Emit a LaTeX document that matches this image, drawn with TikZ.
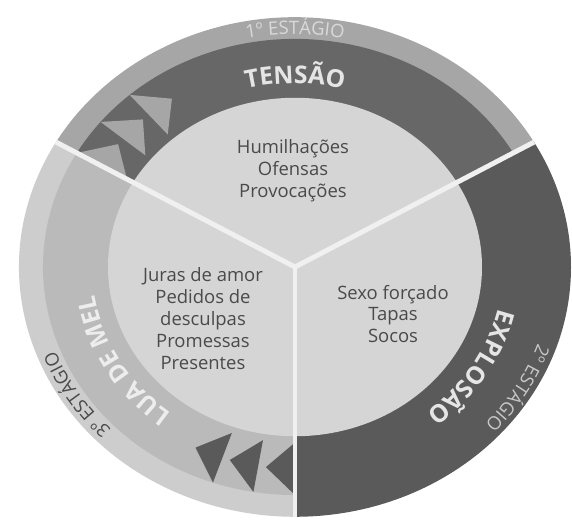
\documentclass[tikz,border=0pt]{standalone}
\usepackage{fontspec}
\setmainfont{Open Sans}
\usetikzlibrary{decorations.text}
\definecolor{tenband}{HTML}{676767}
\definecolor{tenring}{HTML}{A6A6A6}
\definecolor{expband}{HTML}{5A5A5A}
\definecolor{luaband}{HTML}{BABABA}
\definecolor{luaring}{HTML}{CDCDCD}
\definecolor{inner}{HTML}{D5D5D5}
\definecolor{inktext}{HTML}{4A4A4A}
\definecolor{sepcol}{HTML}{F0F0F0}
\newcommand\bandfont{\fontsize{14}{14}\selectfont\bfseries}
\newcommand\stagefont{\fontsize{10.5}{10.5}\selectfont}
\begin{document}
\begin{tikzpicture}[x=0.02cm,y=0.02cm,
  inlist/.style={align=center,text=inktext,font=\fontsize{10.5}{12.5}\selectfont},
  sep/.style={draw=sepcol,line width=2.8pt},
  bandtext/.style={decorate,decoration={text along path,text align=center,text={#1}}}]
  \useasboundingbox (0,0) rectangle (572,522);
  \fill[white] (0,0) rectangle (572,522);
  \coordinate (C) at (295,255);
  \begin{scope}[shift={(C)},yscale=0.905]
    \fill[tenring] (0,0) -- (30:276) arc[start angle=30,end angle=150,radius=276] -- cycle;
    \fill[expband] (0,0) -- (-90:276) arc[start angle=-90,end angle=30,radius=276] -- cycle;
    \fill[luaring] (0,0) -- (150:276) arc[start angle=150,end angle=270,radius=276] -- cycle;
    \fill[tenband] (0,0) -- (30:252) arc[start angle=30,end angle=150,radius=252] -- cycle;
    \fill[luaband] (0,0) -- (150:252) arc[start angle=150,end angle=270,radius=252] -- cycle;
    \foreach \a in {150,140.5,131}
      \fill[tenring] (\a:194) -- (\a:252) -- (\a-7.5:223) -- cycle;
    \foreach \a in {270,260.5,251}
      \fill[expband] (\a:194) -- (\a:252) -- (\a-7.5:223) -- cycle;
    \fill[inner] (0,0) circle[radius=187];
    \coordinate (e1) at (30:276);
    \coordinate (e2) at (150:276);
    \coordinate (e3) at (270:276);
  \end{scope}
  \draw[sep] (C) -- (e1);
  \draw[sep] (C) -- (e2);
  \draw[sep] (C) -- (e3);
  \path[bandtext={|\stagefont\color{white!85!black}|1º ESTÁGIO}]
    ([shift={(125:257 and 232.6)}]C) arc[start angle=125,end angle=55,x radius=257,y radius=232.6];
  \path[bandtext={|\bandfont\color{white!90!black}|TENSÃO}]
    ([shift={(125:203 and 183.7)}]C) arc[start angle=125,end angle=55,x radius=203,y radius=183.7];
  \path[bandtext={|\bandfont\color{white!90!black}|EXPLOSÃO}]
    ([shift={(9:208 and 188.2)}]C) arc[start angle=9,end angle=-71,x radius=208,y radius=188.2];
  \path[bandtext={|\stagefont\color{white!78!black}|2º ESTÁGIO}]
    ([shift={(5:257 and 232.6)}]C) arc[start angle=5,end angle=-65,x radius=257,y radius=232.6];
  \path[bandtext={|\bandfont\color{white!93!black}|LUA DE MEL}]
    ([shift={(250:203 and 183.7)}]C) arc[start angle=250,end angle=170,x radius=203,y radius=183.7];
  \path[bandtext={|\stagefont\color{inktext}|3º ESTÁGIO}]
    ([shift={(247:257 and 232.6)}]C) arc[start angle=247,end angle=177,x radius=257,y radius=232.6];
  \node[inlist] (ten) at (293,351) {Humilhações\\Ofensas\\Provocações};
  \node[inlist] (exp) at (393,208) {Sexo forçado\\Tapas\\Socos};
  \node[inlist] (lua) at (203,203) {Juras de amor\\Pedidos de\\desculpas\\Promessas\\Presentes};
\end{tikzpicture}
\end{document}
